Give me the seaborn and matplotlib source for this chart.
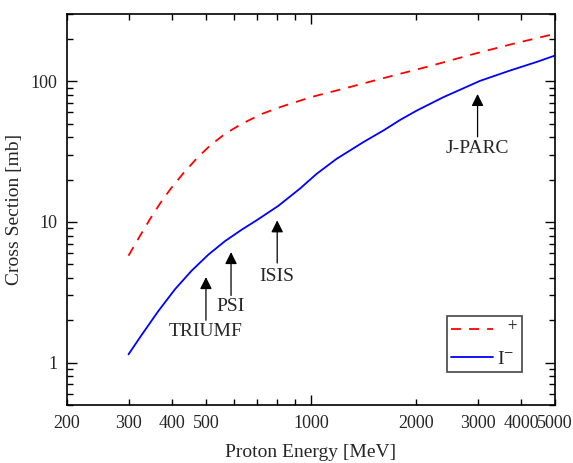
import numpy as np
import pandas as pd
import seaborn as sns
import matplotlib.pyplot as plt
from matplotlib.ticker import FixedLocator, FixedFormatter, NullFormatter, LogLocator

# Cross sections (log-log)
energy_minus = [300, 327, 365, 408, 455, 508, 567, 633, 700, 806, 930, 1039, 1185,
                1413, 1612, 1800, 2009, 2394, 3051, 3719, 4435, 5000]
xs_minus = [1.145, 1.57, 2.32, 3.33, 4.5, 5.85, 7.3, 8.8, 10.3, 13.0, 17.25, 22.0,
            28.1, 36.9, 44.6, 53.0, 61.8, 76.9, 100.5, 119, 137, 152]

energy_plus = [300, 324, 346, 370, 397, 431, 471, 514, 567, 633, 723, 825, 1000, 1266,
               1612, 2193, 2856, 3719, 5000]
xs_plus = [5.75, 8.0, 10.5, 13.6, 17.3, 22.2, 28.3, 34.9, 42.2, 49.7, 58.5, 66.0, 77.0,
           89.6, 105, 128, 153.5, 182, 217]

# Facilities: name, energy, arrow tail, arrow tip, label y
facilities = ['TRIUMF', 'PSI', 'ISIS', 'J-PARC']
fac_energy = [500, 590, 800, 3000]
fac_tail = [2.0, 3.0, 5.1, 40.2]
fac_tip = [4.05, 6.1, 10.25, 81]
fac_text = [1.66, 2.49, 4.12, 33.1]

sns.set_theme(style='ticks')
plt.rcParams['font.family'] = ['Liberation Serif', 'DejaVu Serif']
plt.rcParams['mathtext.fontset'] = 'stix'

fig = plt.figure(figsize=(5.73, 4.63), dpi=100)
ax = fig.add_axes([0.117, 0.1253, 0.8516, 0.8445])

df_plus = pd.DataFrame({'E': energy_plus, 'sigma': xs_plus})
df_minus = pd.DataFrame({'E': energy_minus, 'sigma': xs_minus})

sns.lineplot(data=df_plus, x='E', y='sigma', ax=ax, color='red', lw=1.3,
             linestyle=(0, (5.5, 4.5)), label='  $^{+}$')
sns.lineplot(data=df_minus, x='E', y='sigma', ax=ax, color='blue', lw=1.3,
             label='I$^{-}$')

ax.set_xscale('log')
ax.set_yscale('log')
ax.set_xlim(200, 5000)
ax.set_ylim(0.5, 300)

# x ticks: major at 1000, minor elsewhere, labels on selected values
ax.xaxis.set_major_locator(FixedLocator([1000]))
ax.xaxis.set_minor_locator(FixedLocator([200, 300, 400, 500, 600, 700, 800, 900, 2000, 3000, 4000, 5000]))
ax.xaxis.set_major_formatter(FixedFormatter(['1000']))
minor_labels = ['200', '300', '400', '500', '', '', '', '', '2000', '3000', '4000', '5000']
ax.xaxis.set_minor_formatter(FixedFormatter(minor_labels))

ax.set_yticks([1, 10, 100])
ax.set_yticklabels(['1', '10', '100'])
ax.yaxis.set_minor_locator(LogLocator(base=10, subs=np.arange(2, 10), numticks=10))
ax.yaxis.set_minor_formatter(NullFormatter())

ax.tick_params(which='both', direction='in', top=True, right=True, labelsize=13,
               color='black', width=1)
ax.tick_params(which='major', length=7, pad=7)
ax.tick_params(which='minor', length=4, pad=7)
for s in ax.spines.values():
    s.set_linewidth(1.2)
    s.set_color('black')

ax.set_xlabel('Proton Energy [MeV]', fontsize=14, labelpad=9)
ax.set_ylabel('Cross Section [mb]', fontsize=14, labelpad=5)

for name, e, t0, t1, ty in zip(facilities, fac_energy, fac_tail, fac_tip, fac_text):
    ax.annotate('', xy=(e, t1), xytext=(e, t0),
                arrowprops=dict(arrowstyle='-|>', color='black', lw=0.9,
                                mutation_scale=18, shrinkA=0, shrinkB=0))
    ax.text(e, ty, name, ha='center', va='center', fontsize=14)

leg = ax.legend(loc='lower right', bbox_to_anchor=(0.932, 0.084), borderaxespad=0,
                fancybox=False, framealpha=1, edgecolor='#444444', fontsize=14,
                handlelength=2.2, handletextpad=0.2, labelspacing=0.55,
                borderpad=0.2)
leg.get_frame().set_linewidth(1.2)

fig.savefig('out.png', dpi=100)
